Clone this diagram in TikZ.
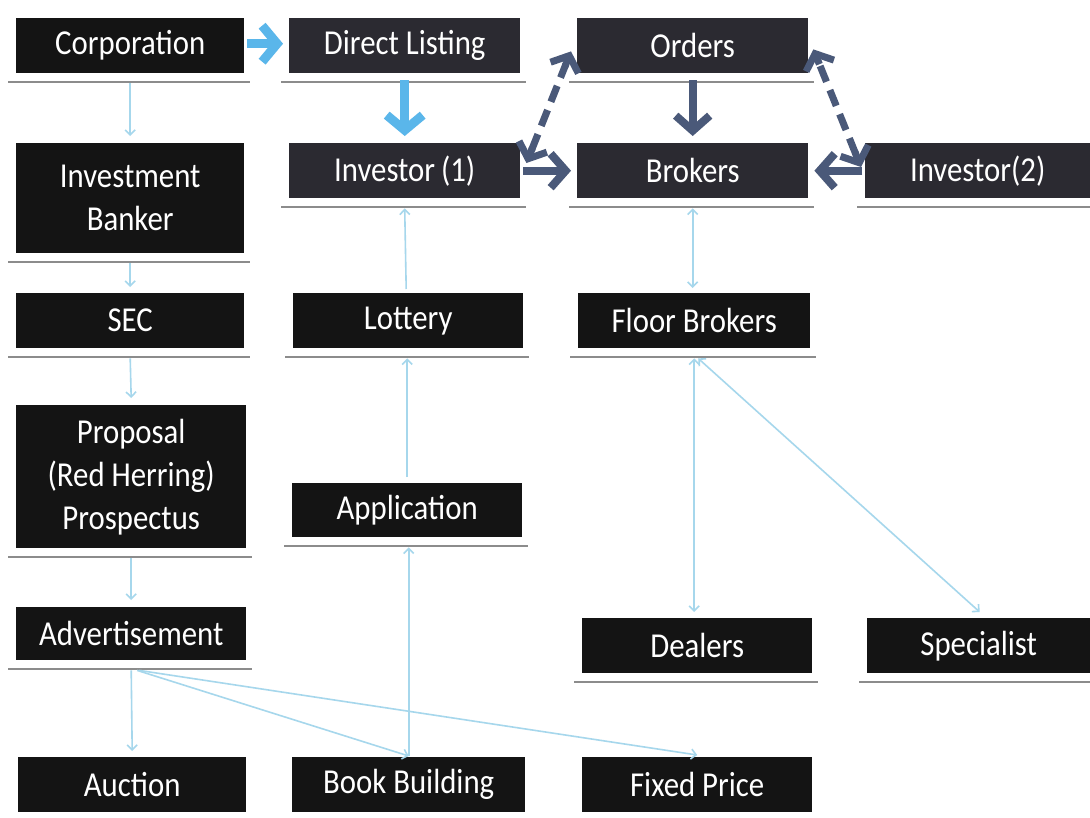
\documentclass[tikz,border=0pt]{standalone}
\usepackage{fontspec}
\setmainfont{Carlito}[FakeStretch=0.88]
\usetikzlibrary{arrows.meta,calc}
\definecolor{boxblack}{HTML}{141414}
\definecolor{boxslate}{HTML}{2B2A31}
\definecolor{lightline}{HTML}{A6D7EC}
\definecolor{thickblue}{HTML}{5AB6EA}
\definecolor{slatearrow}{HTML}{4A5979}
\definecolor{shadowgrey}{HTML}{8C8C8C}
\begin{document}
\begin{tikzpicture}[x=1pt,y=-1pt,
  box/.style={fill=boxblack,text=white,inner sep=0pt,align=center,
    font=\fontsize{35}{43}\selectfont,anchor=north west},
  slatebox/.style={box,fill=boxslate},
  shadowline/.style={draw=shadowgrey,line width=2pt},
  lightarrow/.style={draw=lightline,line width=1.6pt,-{Straight Barb[length=5pt,width=10pt]}},
  lightboth/.style={draw=lightline,line width=1.6pt,{Straight Barb[length=5pt,width=10pt]}-{Straight Barb[length=5pt,width=10pt]}},
  bluearrow/.style={draw=thickblue,line width=9pt,-{Straight Barb[length=15pt,width=36pt]}},
  slatesolid/.style={draw=slatearrow,line width=8pt,-{Straight Barb[length=15pt,width=34pt]}},
  slatedash/.style={draw=slatearrow,line width=7pt,dash pattern=on 17pt off 9pt,
    shorten <=14pt,shorten >=14pt},
  slatehead/.style={draw=slatearrow,line width=7pt,-{Straight Barb[length=13pt,width=30pt]}}]
\useasboundingbox[fill=white] (0,0) rectangle (1090,817);

% column 1
\node[box,minimum width=228,minimum height=55] (corp) at (16,18) {Corporation};
\node[box,minimum width=228,minimum height=110] (invbank) at (16,143) {Investment\\Banker};
\node[box,minimum width=228,minimum height=55] (sec) at (16,293) {SEC};
\node[box,minimum width=230,minimum height=143] (proposal) at (16,405) {Proposal\\(Red Herring)\\Prospectus};
\node[box,minimum width=230,minimum height=53] (advert) at (16,607) {Advertisement};
\node[box,minimum width=228,minimum height=55] (auction) at (18,757) {Auction};

% column 2
\node[slatebox,minimum width=231,minimum height=55] (direct) at (289,18) {Direct Listing};
\node[slatebox,minimum width=231,minimum height=55] (inv1) at (289,143) {Investor\,(1)};
\node[box,minimum width=230,minimum height=55] (lottery) at (293,293) {Lottery};
\node[box,minimum width=230,minimum height=54] (app) at (292,483) {Application};
\node[box,minimum width=233,minimum height=55] (bookb) at (292,757) {Book Building};

% column 3
\node[slatebox,minimum width=231,minimum height=55] (orders) at (577,18) {Orders};
\node[slatebox,minimum width=231,minimum height=55] (brokers) at (577,143) {Brokers};
\node[box,minimum width=232,minimum height=55] (floor) at (578,293) {Floor Brokers};
\node[box,minimum width=230,minimum height=55] (dealers) at (582,618) {Dealers};
\node[box,minimum width=230,minimum height=55] (fixed) at (582,757) {Fixed Price};

% column 4
\node[slatebox,minimum width=225,minimum height=55] (inv2) at (865,143) {Investor(2)};
\node[box,minimum width=223,minimum height=55] (spec) at (867,618) {Specialist};

% shadow lines under boxes
\foreach \n in {corp,invbank,sec,proposal,advert,direct,inv1,lottery,app,orders,brokers,floor,dealers,inv2,spec}
  \draw[shadowline] ($(\n.south west)+(-8,9)$) -- ($(\n.south east)+(6,9)$);

% thin connectors
\draw[lightarrow] ($(corp.south)+(0,10)$) -- ($(invbank.north)+(0,-7)$);
\draw[lightarrow] ($(invbank.south)+(0,10)$) -- ($(sec.north)+(0,-6)$);
\draw[lightarrow] ($(sec.south)+(0,10)$) -- ($(proposal.north)+(0,-7)$);
\draw[lightarrow] ($(proposal.south)+(0,10)$) -- ($(advert.north)+(0,-7)$);
\draw[lightarrow] ($(advert.south)+(0,10)$) -- ($(auction.north)+(0,-6)$);
\draw[lightarrow] ($(advert.south)+(6,10)$) -- ($(bookb.north)+(0,-1)$);
\draw[lightarrow] ($(advert.south)+(8,10)$) -- ($(fixed.north)+(0,-2)$);
\draw[lightarrow] ($(bookb.north)+(0,-1)$) -- ($(bookb.north |- app.south)+(0,10)$);
\draw[lightarrow] ($(app.north)+(0,-6)$) -- ($(app.north |- lottery.south)+(0,10)$);
\draw[lightarrow] ($(lottery.north)+(-2,-4)$) -- ($(inv1.south)+(0,10)$);
\draw[lightboth] ($(brokers.south)+(0,10)$) -- ($(brokers.south |- floor.north)+(0,-5)$);
\draw[lightboth] ($(floor.south)+(0,10)$) -- ($(floor.south |- dealers.north)+(0,-6)$);
\draw[lightboth] ($(floor.south)+(4,10)$) -- ($(spec.north)+(1,-6)$);

% thick connectors
\draw[bluearrow] ($(corp.east)+(3,-2)$) -- ($(direct.west)+(-6,-2)$);
\draw[bluearrow] ($(direct.south)+(0,7)$) -- ($(inv1.north)+(0,-7)$);
\draw[slatesolid] ($(orders.south)+(0,7)$) -- ($(brokers.north)+(0,-7)$);
\draw[slatesolid] ($(inv1.east)+(3,0)$) -- ($(brokers.west)+(-6,0)$);
\draw[slatesolid] ($(inv2.west)+(-3,0)$) -- ($(brokers.east)+(6,0)$);

% dashed double-headed connectors
\coordinate (d1a) at ($(inv1.north east)+(6,20)$);
\coordinate (d1b) at ($(orders.south west)+(-6,-22)$);
\coordinate (d2a) at ($(inv2.north west)+(-4,24)$);
\coordinate (d2b) at ($(orders.south east)+(5,-24)$);
\draw[slatedash] (d1a) -- (d1b);
\draw[slatehead] ($(d1a)!16pt!(d1b)$) -- (d1a);
\draw[slatehead] ($(d1b)!16pt!(d1a)$) -- (d1b);
\draw[slatedash] (d2a) -- (d2b);
\draw[slatehead] ($(d2a)!16pt!(d2b)$) -- (d2a);
\draw[slatehead] ($(d2b)!16pt!(d2a)$) -- (d2b);
\end{tikzpicture}
\end{document}
